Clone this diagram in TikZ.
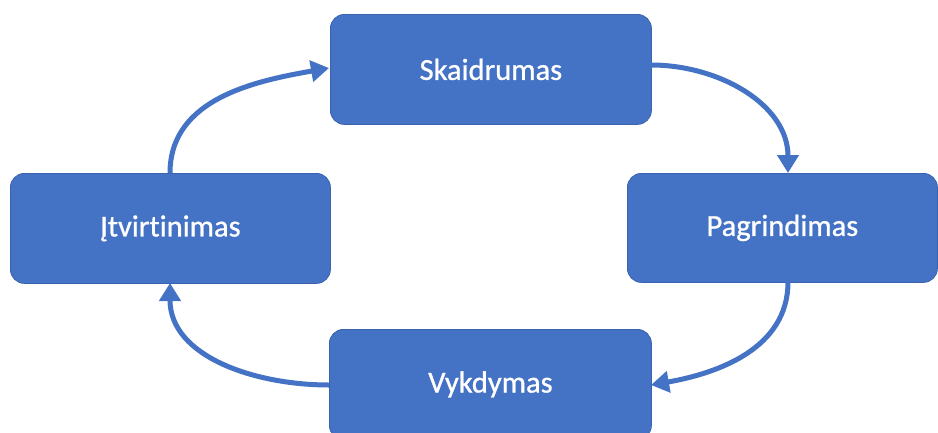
\documentclass[tikz,border=0pt]{standalone}
\usepackage{fontspec}
\setmainfont{Carlito}[Ligatures=NoCommon, FakeBold=0.9]
\usetikzlibrary{arrows.meta}
\definecolor{boxblue}{HTML}{4472C4}
\definecolor{boxedge}{HTML}{3A63AE}
\begin{document}
\begin{tikzpicture}[x=1pt,y=-1pt,
  stage/.style={draw=boxedge, line width=0.8pt, fill=boxblue, rounded corners=14pt,
    text=white, font=\fontsize{30.5}{33}\selectfont, anchor=north west, inner sep=0pt},
  cyc/.style={draw=boxblue, line width=5pt, -{Triangle[length=18pt,width=21pt]}}]
\useasboundingbox (0,0) rectangle (938,432);
\begin{scope}
\clip (0,0) rectangle (938,432);
\node[stage, minimum width=321pt, minimum height=110pt] (s) at (330,14) {Skaidrumas};
\node[stage, minimum width=310pt, minimum height=109pt] (p) at (627,173) {Pagrindimas};
\node[stage, minimum width=320pt, minimum height=110pt] (i) at (10,173) {Įtvirtinimas};
\node[stage, minimum width=322pt, minimum height=110pt] (v) at (329,329) {Vykdymas};
\end{scope}
\coordinate (s1) at (651,65);
\coordinate (p1) at (788,173);
\coordinate (p2) at (788,282);
\coordinate (v1) at (651,385);
\coordinate (v2) at (329,385);
\coordinate (i1) at (170,283);
\coordinate (i2) at (170,173);
\coordinate (s2) at (329,68);
\draw[cyc] (s1) to[out=0,in=90] (p1);
\draw[cyc] (p2) to[out=-90,in=10] (v1);
\draw[cyc] (v2) to[out=180,in=-90] (i1);
\draw[cyc] (i2) to[out=90,in=190] (s2);
\end{tikzpicture}
\end{document}
